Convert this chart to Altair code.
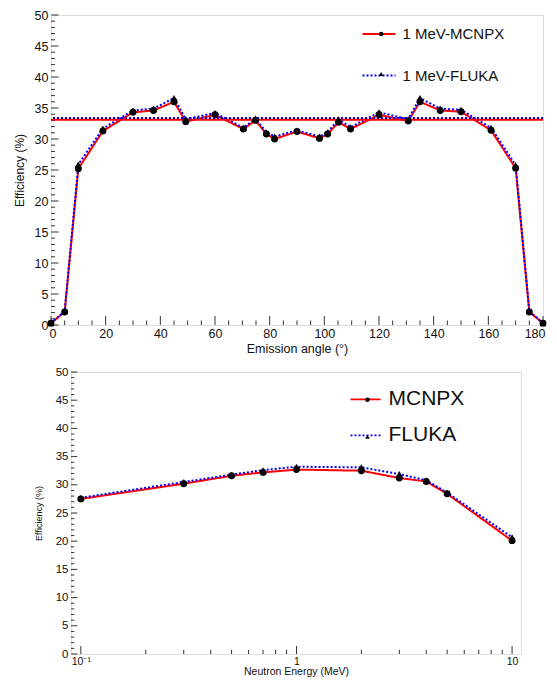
import altair as alt
import pandas as pd

FONT = "Liberation Sans"

# ---------------- top panel: efficiency vs emission angle (1 MeV) ----------------
angles = [0, 5, 10, 19, 30, 37.5, 45, 49.3, 60, 70.4, 74.8, 78.8, 81.8, 90,
          98.2, 101.2, 105.2, 109.6, 120, 130.7, 135, 142.4, 150, 161, 170, 175, 180]
mcnpx_angle = [0.3, 2.1, 25.2, 31.3, 34.3, 34.6, 36.0, 32.8, 33.9, 31.6, 33.0, 30.8, 30.0, 31.2,
               30.1, 30.8, 32.7, 31.6, 33.9, 32.9, 36.0, 34.6, 34.4, 31.4, 25.3, 2.1, 0.3]
fluka_angle = [0.3, 2.2, 25.9, 31.7, 34.6, 34.9, 36.6, 33.2, 34.2, 31.8, 33.3, 31.1, 30.4, 31.4,
               30.4, 31.1, 33.2, 31.9, 34.3, 33.2, 36.6, 34.9, 34.7, 31.8, 25.8, 2.2, 0.3]
mean_angle = [33.1, 33.4]
angle_series = ["1 MeV-MCNPX", "1 MeV-FLUKA"]

# ---------------- bottom panel: efficiency vs neutron energy ----------------
energies = [0.1, 0.3, 0.5, 0.7, 1, 2, 3, 4, 5, 10]
mcnpx_energy = [27.5, 30.2, 31.6, 32.2, 32.7, 32.5, 31.2, 30.6, 28.4, 20.1]
fluka_energy = [27.7, 30.5, 31.8, 32.6, 33.2, 33.1, 31.9, 30.8, 28.6, 20.7]
energy_series = ["MCNPX", "FLUKA"]

# ---------------- ticks ----------------
angle_major = list(range(0, 181, 20))
angle_minor = [v for v in range(0, 181, 5) if v % 20]
eff_major = list(range(0, 51, 5))
eff_minor = [v for v in range(0, 51) if v % 5]
energy_major = [0.1, 1, 10]
energy_minor = [0.2, 0.3, 0.4, 0.5, 0.6, 0.7, 0.8, 0.9, 2, 3, 4, 5, 6, 7, 8, 9]
energy_labels = ["10⁻¹", "1", "10"]

line_colors = ["#ff0000", "#0000ff"]
line_dashes = [[1, 0], [2, 2]]
marker_shapes = ["circle", "triangle-up"]
TICK = "#333333"


def long_table(xs, ys_a, ys_b, names, xname):
    n = len(xs)
    df = pd.DataFrame({
        xname: list(xs) + list(xs),
        "eff": list(ys_a) + list(ys_b),
        "series": [names[0]] * n + [names[1]] * n,
        "draw": [1] * n + [0] * n,
    })
    df["marker"] = [names[0] + " marker"] * n + [names[1] + " marker"] * n
    return df


def label_axis(orient, values, fs, pad, title, tfs, tpad, flush=False, label_expr=None):
    kw = dict(orient=orient, values=values, ticks=False, domain=False, grid=False,
              labelFont=FONT, labelFontSize=fs, labelColor="#111111",
              labelPadding=pad, labelOverlap=False, title=title,
              titleFont=FONT, titleFontSize=tfs, titleFontWeight="normal", titleColor="#111111",
              titlePadding=tpad)
    if flush:
        kw["labelFlush"] = True
        kw["labelFlushOffset"] = 2
    else:
        kw["labelFlush"] = False
    if label_expr:
        kw["labelExpr"] = label_expr
    return alt.Axis(**kw)


def panel(df, xname, xscale, xaxis, ticks, yaxis, names, means, leg, w, h):
    yscale = alt.Scale(domain=[0, 50], nice=False)
    stroke_legend = alt.Legend(orient="none", legendX=leg["x"], legendY=leg["y"], title=None,
                               symbolType="stroke", symbolSize=leg["size"], symbolStrokeWidth=1.8,
                               labelFont=FONT, labelFontSize=leg["fs"], labelColor="#111111",
                               labelOffset=leg["loff"], rowPadding=leg["rpad"], padding=0)
    shape_legend = alt.Legend(orient="none", legendX=leg["sx"], legendY=leg["sy"], title=None,
                              symbolSize=leg["msize"], symbolFillColor="black",
                              symbolStrokeColor="black", symbolStrokeWidth=0, labelExpr="''",
                              labelFontSize=leg["fs"], rowPadding=leg["srpad"], padding=0)
    color = alt.Color("series:N", scale=alt.Scale(domain=names, range=line_colors), legend=stroke_legend)
    dash = alt.StrokeDash("series:N", scale=alt.Scale(domain=names, range=line_dashes), legend=stroke_legend)
    markers = [n + " marker" for n in names]

    def xt(values, length):
        return alt.Chart(pd.DataFrame({xname: values})).mark_rule(color=TICK, strokeWidth=1).encode(
            x=alt.X(f"{xname}:Q", scale=xscale, axis=xaxis),
            y=alt.value(h), y2=alt.value(h - length))

    def yt(values, length):
        return alt.Chart(pd.DataFrame({"eff": values})).mark_rule(color=TICK, strokeWidth=1).encode(
            y=alt.Y("eff:Q", scale=yscale, axis=yaxis),
            x=alt.value(0), x2=alt.value(length))

    base = alt.Chart(df)
    lines = base.mark_line(strokeWidth=2).encode(
        x=alt.X(f"{xname}:Q", scale=xscale, axis=xaxis),
        y=alt.Y("eff:Q", scale=yscale, axis=yaxis),
        color=color, strokeDash=dash,
    )
    points = base.mark_point(filled=True, color="black", opacity=1, size=48).encode(
        x=alt.X(f"{xname}:Q", scale=xscale, axis=xaxis),
        y=alt.Y("eff:Q", scale=yscale, axis=yaxis),
        shape=alt.Shape("marker:N", scale=alt.Scale(domain=markers, range=marker_shapes), legend=shape_legend),
        order=alt.Order("draw:Q"),
    )
    layers = [
        xt(ticks["xmaj"], ticks["xmajl"]),
        xt(ticks["xmin"], ticks["xminl"]),
        yt(ticks["ymaj"], ticks["ymajl"]),
        yt(ticks["ymin"], ticks["yminl"]),
        lines,
    ]
    if means is not None:
        mdf = pd.DataFrame({"series": names, "eff": means})
        rules = alt.Chart(mdf).mark_rule(strokeWidth=2).encode(
            y=alt.Y("eff:Q", scale=yscale, axis=yaxis), color=color, strokeDash=dash)
        layers.append(rules)
    layers.append(points)
    return alt.layer(*layers).properties(width=w, height=h)


TOP_W, TOP_H = 492, 310
BOT_W, BOT_H = 450, 282
BOT_SHIFT = 20

top_df = long_table(angles, mcnpx_angle, fluka_angle, angle_series, "angle")
top = panel(
    top_df, "angle", alt.Scale(domain=[0, 180], nice=False),
    label_axis("bottom", angle_major, 12.5, 2, "Emission angle (°)", 12.5, 3, flush=True),
    dict(xmaj=angle_major, xmajl=9, xmin=angle_minor, xminl=4.5,
         ymaj=eff_major, ymajl=7.5, ymin=eff_minor, yminl=4),
    label_axis("left", eff_major, 12.5, 3, "Efficiency (%)", 12, 8),
    angle_series, mean_angle,
    dict(x=310.5, y=1.5, size=1089, fs=15, loff=6, rpad=15.5, sx=322.7, sy=11.5, msize=20, srpad=24),
    TOP_W, TOP_H,
)

bottom_df = long_table(energies, mcnpx_energy, fluka_energy, energy_series, "energy")
label_expr = ("datum.value < 0.5 ? '" + energy_labels[0] + "' : datum.value < 5 ? '"
              + energy_labels[1] + "' : '" + energy_labels[2] + "'")
bottom = panel(
    bottom_df, "energy", alt.Scale(type="log", domain=[0.09, 11], nice=False),
    label_axis("bottom", energy_major, 10.5, 2, "Neutron Energy (MeV)", 10.5, 0, label_expr=label_expr),
    dict(xmaj=energy_major, xmajl=8, xmin=energy_minor, xminl=4.3,
         ymaj=eff_major, ymajl=6.3, ymin=eff_minor, yminl=3.3),
    label_axis("left", eff_major, 11.5, 3, "Efficiency (%)", 9, 12),
    energy_series, None,
    dict(x=298.5, y=11.3, size=900, fs=21, loff=7, rpad=10, sx=306, sy=17.3, msize=20, srpad=15),
    BOT_W, BOT_H,
)

# empty spacer that shifts the lower panel to the right
spacer = alt.Chart(pd.DataFrame({"s": [0]})).mark_point(opacity=0).encode(
    x=alt.X("s:Q", axis=None), y=alt.Y("s:Q", axis=None)
).properties(width=BOT_SHIFT, height=BOT_H, view=alt.ViewBackground(strokeOpacity=0))

bottom_row = alt.hconcat(spacer, bottom, spacing=0, bounds="flush")

chart = alt.vconcat(top, bottom_row, spacing=47, bounds="flush").resolve_scale(
    color="independent", strokeDash="independent", shape="independent"
).resolve_legend(
    color="independent", strokeDash="independent", shape="independent"
).properties(
    padding={"left": 4, "top": 0, "right": 0, "bottom": 0}
).configure_view(stroke="#222222", strokeWidth=1.2).configure(background="white")

chart.save("out.html", embed_options={"renderer": "svg", "actions": False})
